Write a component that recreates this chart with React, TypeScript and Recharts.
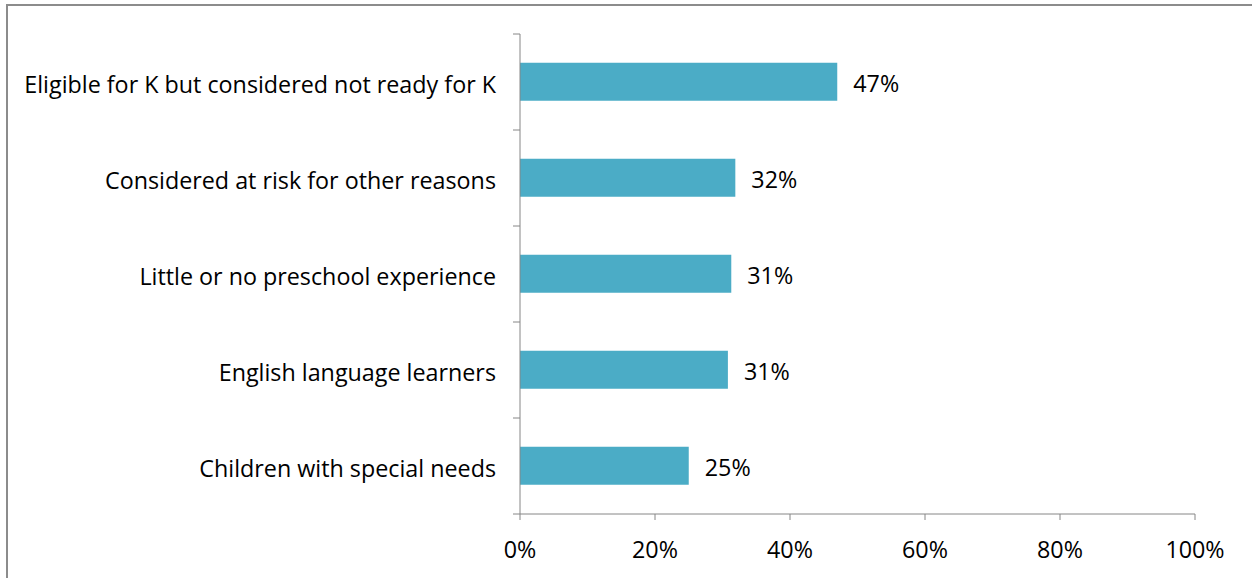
import React from "react";
import { BarChart, Bar, XAxis, YAxis, LabelList } from "recharts";

const categories = [
  "Eligible for K but considered not ready for K",
  "Considered at risk for other reasons",
  "Little or no preschool experience",
  "English language learners",
  "Children with special needs",
];
const shares = [47.0, 31.9, 31.3, 30.8, 25.0];
const xTicks = [0, 20, 40, 60, 80, 100];

const data = categories.map((name, i) => ({ name, value: shares[i] }));

const W = 1252;
const H = 578;
const MARGIN = { top: 34, right: 57, bottom: 24, left: 0 };
const X_AXIS_H = 40;
const Y_AXIS_W = 520;
const TICK_SIZE = 6;
const TICK_MARGIN = 18;
const PLOT_H = H - MARGIN.top - MARGIN.bottom - X_AXIS_H;
const AXIS_COLOR = "#868686";
const FONT = "'Open Sans', sans-serif";
const FS = 23.3;

// category label plus Excel-style tick marks on the band edges
const CategoryTick = (props: any) => {
  const { x, y, payload, index } = props;
  const axisX = x + TICK_SIZE + TICK_MARGIN;
  const half = PLOT_H / categories.length / 2;
  return (
    <g>
      <line x1={axisX - 7} x2={axisX} y1={y - half} y2={y - half} stroke={AXIS_COLOR} />
      {index === categories.length - 1 && (
        <line x1={axisX - 7} x2={axisX} y1={y + half} y2={y + half} stroke={AXIS_COLOR} />
      )}
      <text
        x={x}
        y={y}
        dy={2}
        textAnchor="end"
        dominantBaseline="central"
        fill="#000"
        fontSize={FS}
        fontFamily={FONT}
      >
        {payload.value}
      </text>
    </g>
  );
};

export default function App() {
  return (
    <div
      style={{
        position: "absolute",
        left: 0,
        top: 0,
        width: W,
        height: H,
        background: "#fff",
        overflow: "hidden",
      }}
    >
      <div
        style={{
          position: "absolute",
          left: 6,
          top: 4,
          width: W + 20,
          height: H + 20,
          border: "2px solid #8c8c8c",
        }}
      />
      <div style={{ position: "absolute", left: 0, top: 0 }}>
        <BarChart
          width={W}
          height={H}
          data={data}
          layout="vertical"
          margin={MARGIN}
          barCategoryGap="30%"
        >
          <XAxis
            type="number"
            domain={[0, 100]}
            ticks={xTicks}
            tickFormatter={(v: number) => `${v}%`}
            height={X_AXIS_H}
            stroke={AXIS_COLOR}
            tickSize={TICK_SIZE}
            tickMargin={21}
            tick={{ fill: "#000", fontSize: FS, fontFamily: FONT }}
            interval={0}
          />
          <YAxis
            type="category"
            dataKey="name"
            width={Y_AXIS_W}
            stroke={AXIS_COLOR}
            tickLine={false}
            tickSize={TICK_SIZE}
            tickMargin={TICK_MARGIN}
            tick={<CategoryTick />}
            interval={0}
          />
          <Bar dataKey="value" fill="#4BACC6" isAnimationActive={false}>
            <LabelList
              dataKey="value"
              position="right"
              offset={16}
              dy={2}
              formatter={(v: any) => `${Math.round(Number(v))}%`}
              fill="#000"
              fontSize={FS}
              fontFamily={FONT}
            />
          </Bar>
        </BarChart>
      </div>
    </div>
  );
}
